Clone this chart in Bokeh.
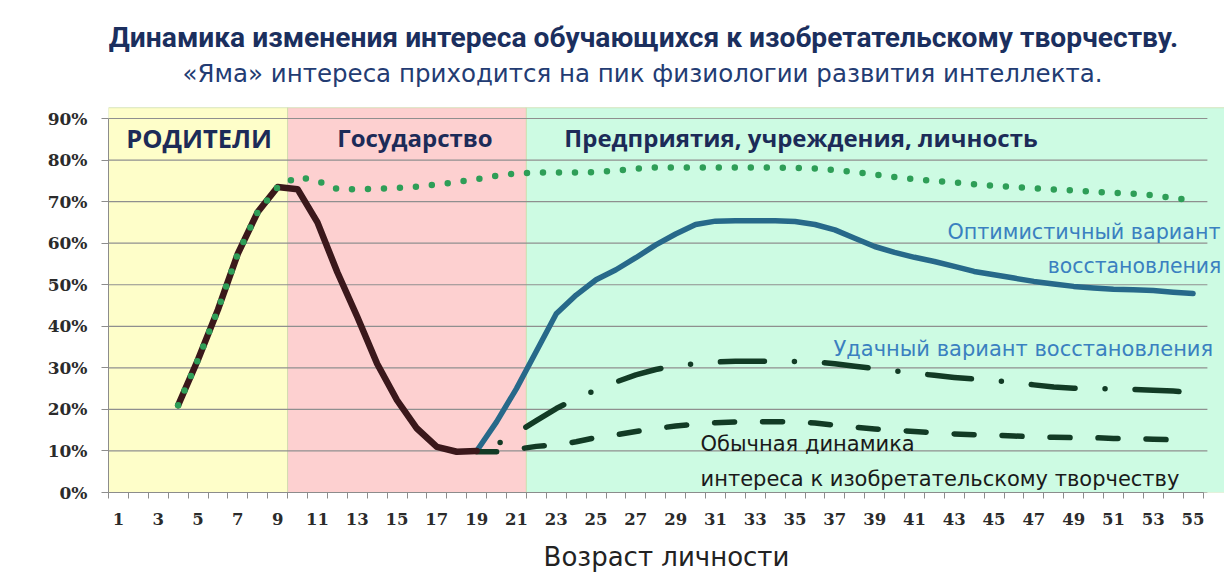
from bokeh.plotting import figure
from bokeh.models import ColumnDataSource, Range1d, FixedTicker, Label, BoxAnnotation
from bokeh.embed import file_html
from bokeh.resources import INLINE

# ---------------- data ----------------
ages = list(range(1, 56))
x_tick_values = ages[::2]
x_tick_labels = [str(a) for a in x_tick_values]
y_tick_values = [0, 10, 20, 30, 40, 50, 60, 70, 80, 90]
y_tick_labels = ["0%", "10%", "20%", "30%", "40%", "50%", "60%", "70%", "80%", "90%"]

# Periods (bands)
period_names = ["РОДИТЕЛИ", "Государство", "Предприятия, учреждения, личность"]
period_start = [0.5, 9.5, 21.5]
period_end = [9.5, 21.5, 55.5]
period_colors = ["#fefec9", "#fdd0d0", "#cdfbe3"]

# Interest under parents and state (dark line), ages 4..19
decline_ages = list(range(4, 20))
decline_vals = [21, 32, 44, 57.5, 67.5, 73.5, 73, 65, 53, 42.3, 31, 22.2, 15.4, 11, 9.8, 10]

# Potential interest (green dotted), ages 4..55
potential_ages = list(range(4, 56))
potential_vals = [21, 32, 44, 57.5, 67.5, 73.5, 76, 75, 73, 73, 73.1, 73.3, 73.6, 74.1,
                  74.7, 75.4, 76.2, 76.8, 77, 77, 77, 77.1, 77.5, 77.9, 78.2, 78.2, 78.2,
                  78.2, 78.2, 78.2, 78.2, 78.1, 78, 77.6, 77.1, 76.5, 75.9, 75.4, 75,
                  74.6, 74.2, 73.8, 73.5, 73.2, 72.9, 72.7, 72.4, 72.1, 71.9, 71.5, 70.9, 70.3]

# Recovery variants, ages 19..55
recovery_ages = list(range(19, 56))
optimistic_vals = [10, 17, 25, 34, 43, 47.5, 51.2, 53.6, 56.5, 59.6, 62.2, 64.5, 65.3, 65.4,
                   65.4, 65.4, 65.2, 64.5, 63.2, 61.2, 59.2, 57.8, 56.6, 55.6, 54.4, 53.2,
                   52.4, 51.6, 50.8, 50.2, 49.6, 49.2, 48.9, 48.8, 48.6, 48.2, 47.9]
successful_vals = [10, 11.5, 14.3, 17.3, 20.2, 22.6, 24.7, 26.6, 28.3, 29.6, 30.5, 31, 31.4,
                   31.6, 31.6, 31.6, 31.5, 31.4, 31, 30.4, 29.8, 29.3, 28.7, 28.2, 27.7,
                   27.3, 26.9, 26.5, 25.9, 25.4, 25.1, 25, 24.9, 24.8, 24.6, 24.4, 24.1]
usual_vals = [9.8, 9.8, 10.4, 11.1, 11.5, 12.2, 13.2, 13.9, 14.7, 15.4, 16, 16.4, 16.8, 17,
              17, 17, 17, 16.7, 16.2, 15.7, 15.3, 15, 14.7, 14.4, 14.1, 13.9, 13.8, 13.6,
              13.4, 13.3, 13.2, 13.2, 13, 13, 12.8, 12.7, 12.5]

title_text = "Динамика изменения интереса обучающихся к изобретательскому творчеству."
subtitle_text = "«Яма» интереса приходится на пик физиологии развития интеллекта."
x_axis_title = "Возраст личности"

# ---------------- layout constants ----------------
X_MIN, X_MAX = 0.5, 56.58      # frame runs to the right edge of the canvas
Y_MIN, Y_MAX = 0, 118.4        # frame runs up to the top of the canvas
PLOT_TOP = 92.6                # top of the coloured period bands
GRID_X_END = 55.72

p = figure(width=1224, height=574,
           x_range=Range1d(X_MIN, X_MAX), y_range=Range1d(Y_MIN, Y_MAX),
           output_backend="svg", toolbar_location=None,
           min_border_left=108, min_border_right=0,
           min_border_top=0, min_border_bottom=82)
p.background_fill_color = "white"
p.border_fill_color = "white"
p.outline_line_color = None

# bands
ends = period_end[:-1] + [X_MAX]
for s, e, c in zip(period_start, ends, period_colors):
    p.add_layout(BoxAnnotation(left=s, right=e, bottom=0, top=PLOT_TOP,
                               fill_color=c, fill_alpha=1.0,
                               line_color="#c9dca8", line_alpha=0.7, line_width=1,
                               level="image"))

# axes
xa = p.xaxis[0]
xa.bounds = (period_start[0], period_end[-1])
xa.ticker = FixedTicker(ticks=x_tick_values, minor_ticks=[a - 0.5 for a in ages] + [ages[-1] + 0.5])
xa.major_label_overrides = dict(zip(x_tick_values, x_tick_labels))
xa.axis_line_color = "#8c8c8c"
xa.major_tick_line_color = None
xa.major_tick_out = 0
xa.major_tick_in = 0
xa.minor_tick_line_color = "#8c8c8c"
xa.minor_tick_out = 6
xa.minor_tick_in = 0
xa.major_label_standoff = 14
xa.major_label_text_font = "DejaVu Serif"
xa.major_label_text_font_style = "bold"
xa.major_label_text_font_size = "16.5px"
xa.major_label_text_color = "#2b2b2b"
xa.axis_label = x_axis_title
xa.axis_label_standoff = 14
xa.axis_label_text_font = "DejaVu Sans"
xa.axis_label_text_font_style = "normal"
xa.axis_label_text_font_size = "26px"
xa.axis_label_text_color = "#222222"

ya = p.yaxis[0]
ya.bounds = (y_tick_values[0], y_tick_values[-1])
ya.ticker = FixedTicker(ticks=y_tick_values)
ya.major_label_overrides = dict(zip(y_tick_values, y_tick_labels))
ya.axis_line_color = "#8c8c8c"
ya.major_tick_line_color = "#8c8c8c"
ya.major_tick_out = 7
ya.major_tick_in = 0
ya.minor_tick_line_color = None
ya.major_label_standoff = 14
ya.major_label_text_font = "DejaVu Serif"
ya.major_label_text_font_style = "bold"
ya.major_label_text_font_size = "17px"
ya.major_label_text_color = "#2b2b2b"

p.xgrid.grid_line_color = None
p.ygrid.grid_line_color = None

# horizontal gridlines at the y ticks
grid_src = ColumnDataSource(dict(x0=[X_MIN] * len(y_tick_values),
                                 x1=[GRID_X_END] * len(y_tick_values),
                                 y=y_tick_values))
p.segment(x0="x0", x1="x1", y0="y", y1="y", source=grid_src,
          line_color="#8f8f8f", line_width=1.2)

# lines
src_opt = ColumnDataSource(dict(x=recovery_ages, y=optimistic_vals))
src_succ = ColumnDataSource(dict(x=recovery_ages, y=successful_vals))
src_usual = ColumnDataSource(dict(x=recovery_ages, y=usual_vals))
src_dec = ColumnDataSource(dict(x=decline_ages, y=decline_vals))
src_pot = ColumnDataSource(dict(x=potential_ages, y=potential_vals))

p.line("x", "y", source=src_opt, line_color="#27698a", line_width=5.5,
       line_join="round", line_cap="round")
p.line("x", "y", source=src_usual, line_color="#123b25", line_width=5.5,
       line_dash="20 28", line_cap="round", line_join="round")
p.line("x", "y", source=src_succ, line_color="#123b25", line_width=5.5,
       line_dash="44 30 0 30", line_dash_offset=49, line_cap="round", line_join="round")
p.line("x", "y", source=src_dec, line_color="#3b181b", line_width=6.5,
       line_join="round", line_cap="round")
p.line("x", "y", source=src_pot, line_color="#2e9e57", line_width=6.5,
       line_dash="0 16", line_cap="round", line_join="round")

# period names
navy = "#1c2b58"
for name, cx, fs in zip(period_names, [5.05, 15.9, 35.3], ["25.5px", "24px", "24px"]):
    p.add_layout(Label(x=cx, y=85.4, text=name, text_align="center",
                       text_baseline="middle", text_font="Open Sans",
                       text_font_style="bold", text_font_size=fs, text_color=navy))

# curve labels
blue_txt = "#3a80c0"
p.add_layout(Label(x=42.66, y=62.6, text="Оптимистичный вариант", text_align="left",
                   text_baseline="middle", text_font="DejaVu Sans", text_font_size="20.7px",
                   text_color=blue_txt))
p.add_layout(Label(x=47.7, y=54.4, text="восстановления", text_align="left",
                   text_baseline="middle", text_font="DejaVu Sans", text_font_size="20.4px",
                   text_color=blue_txt))
p.add_layout(Label(x=36.93, y=34.5, text="Удачный вариант восстановления", text_align="left",
                   text_baseline="middle", text_font="DejaVu Sans", text_font_size="21px",
                   text_color=blue_txt))
p.add_layout(Label(x=30.25, y=11.6, text="Обычная динамика", text_align="left",
                   text_baseline="middle", text_font="DejaVu Sans", text_font_size="21px",
                   text_color="#1a1a1a"))
p.add_layout(Label(x=30.25, y=3.2, text="интереса к изобретательскому творчеству",
                   text_align="left", text_baseline="middle", text_font="DejaVu Sans",
                   text_font_size="21px", text_color="#1a1a1a"))

# titles (screen units relative to the plot frame; the frame reaches the canvas top)
p.add_layout(Label(x=535, y=455, x_units="screen", y_units="screen", text=title_text,
                   text_align="center", text_baseline="middle", text_font="Roboto",
                   text_font_style="bold", text_font_size="28.2px", text_color="#1b2f5e"))
p.add_layout(Label(x=534, y=419, x_units="screen", y_units="screen", text=subtitle_text,
                   text_align="center", text_baseline="middle", text_font="DejaVu Sans",
                   text_font_size="24.5px", text_color="#233c73"))

open("out.html", "w").write(file_html(p, INLINE))
